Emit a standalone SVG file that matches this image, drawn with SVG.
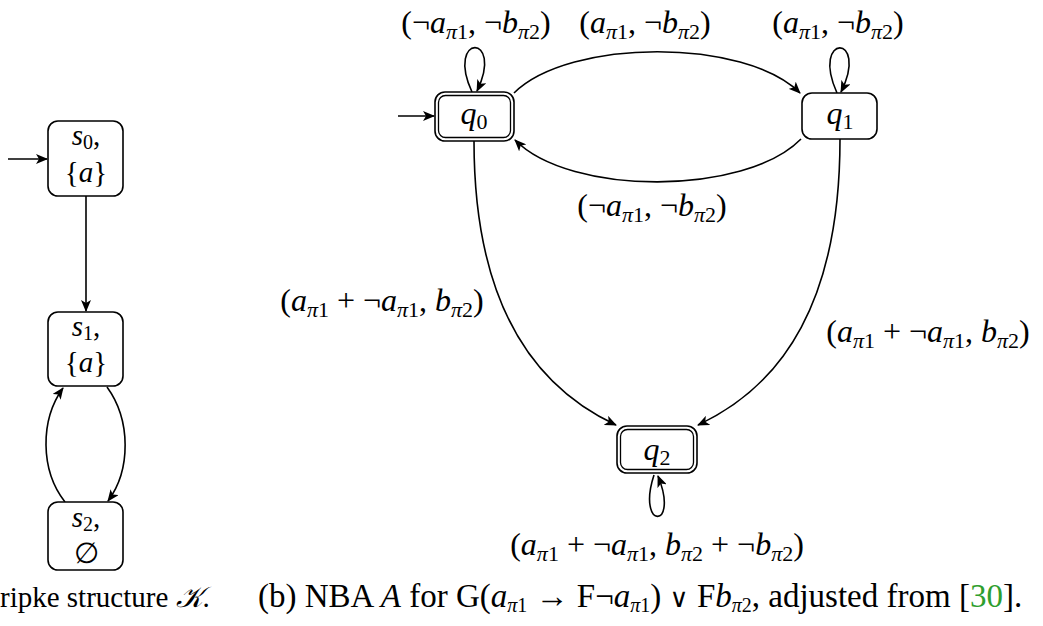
<svg xmlns="http://www.w3.org/2000/svg" width="1043" height="626" viewBox="0 0 1043 626" font-family="'Liberation Serif', 'Times New Roman', serif">
<style>
text{font-family:"Liberation Serif","Times New Roman",serif;fill:#000;}
.lbl{font-size:32px;text-anchor:middle;}
.k{font-size:29px;text-anchor:middle;}
.cap{font-size:33px;}
.capl{font-size:29px;}
.i{font-style:italic;}
.s{font-size:22px;}
.sk{font-size:20px;}
.dv{font-family:"DejaVu Serif",serif;font-size:26px;}
.box{fill:#fff;stroke:#000;stroke-width:1.6;}
.box2{fill:none;stroke:#000;stroke-width:1.3;}
.e{fill:none;stroke:#000;stroke-width:1.6;marker-end:url(#ah);}
</style>
<defs>
<marker id="ah" viewBox="0 0 12 10" refX="11" refY="5" markerWidth="12" markerHeight="10" markerUnits="userSpaceOnUse" orient="auto">
<path d="M0,0 L12,5 L0,10 L3,5 Z" fill="#000"/>
</marker>
</defs>
<rect width="1043" height="626" fill="#fff"/>

<g id="connectors">
<path class="e" d="M8,159 L47,159"/>
<path class="e" d="M86,196 L86,311"/>
<path class="e" d="M107,387 C131,420 131,470 108,501"/>
<path class="e" d="M65,502 C40,470 40,420 63,388"/>
<path class="e" d="M398,116 L434,116"/>
<path class="e" d="M472,92 C445,33 505,33 477,91"/>
<path class="e" d="M837,93 C810,33 870,33 841,92"/>
<path class="e" d="M514,93 C570,38 745,38 800,93"/>
<path class="e" d="M801,139 C745,196 570,196 515,140"/>
<path class="e" d="M474,141 C474,300 530,385 616,425"/>
<path class="e" d="M840,139 C840,300 784,385 698,425"/>
<path class="e" d="M654,475 C636,530 680,530 658,476"/>
</g>

<g id="s0">
<rect class="box" x="48" y="121" width="75" height="75" rx="10"/>
<text class="k" x="86" y="145"><tspan class="i">s</tspan><tspan class="sk" dy="4">0</tspan><tspan dy="-4">,</tspan></text>
<text class="k" x="86" y="182">{<tspan class="i">a</tspan>}</text>
</g>
<g id="s1">
<rect class="box" x="48" y="312" width="75" height="74" rx="10"/>
<text class="k" x="86" y="336"><tspan class="i">s</tspan><tspan class="sk" dy="4">1</tspan><tspan dy="-4">,</tspan></text>
<text class="k" x="86" y="372">{<tspan class="i">a</tspan>}</text>
</g>
<g id="s2">
<rect class="box" x="48" y="502" width="75" height="68" rx="10"/>
<text class="k" x="86" y="527"><tspan class="i">s</tspan><tspan class="sk" dy="4">2</tspan><tspan dy="-4">,</tspan></text>
<text class="k" x="86" y="563">∅</text>
</g>

<g id="q0">
<rect class="box" x="435" y="92" width="79" height="49" rx="10"/>
<rect class="box2" x="438.5" y="95.5" width="72" height="42" rx="7"/>
<text class="lbl" x="474" y="124"><tspan class="i">q</tspan><tspan class="s" dy="5">0</tspan></text>
</g>
<g id="q1">
<rect class="box" x="802" y="93" width="75" height="46" rx="10"/>
<text class="lbl" x="840" y="124"><tspan class="i">q</tspan><tspan class="s" dy="5">1</tspan></text>
</g>
<g id="q2">
<rect class="box" x="617" y="426" width="80" height="47" rx="10"/>
<rect class="box2" x="620.5" y="429.5" width="73" height="40" rx="7"/>
<text class="lbl" x="657" y="460"><tspan class="i">q</tspan><tspan class="s" dy="5">2</tspan></text>
</g>

<g id="labels">
<text class="lbl" x="476" y="33">(¬<tspan class="i">a</tspan><tspan class="s" dy="6"><tspan class="i">π</tspan>1</tspan><tspan dy="-6">, ¬</tspan><tspan class="i">b</tspan><tspan class="s" dy="6"><tspan class="i">π</tspan>2</tspan><tspan dy="-6">)</tspan></text>
<text class="lbl" x="645" y="33">(<tspan class="i">a</tspan><tspan class="s" dy="6"><tspan class="i">π</tspan>1</tspan><tspan dy="-6">, ¬</tspan><tspan class="i">b</tspan><tspan class="s" dy="6"><tspan class="i">π</tspan>2</tspan><tspan dy="-6">)</tspan></text>
<text class="lbl" x="838" y="33">(<tspan class="i">a</tspan><tspan class="s" dy="6"><tspan class="i">π</tspan>1</tspan><tspan dy="-6">, ¬</tspan><tspan class="i">b</tspan><tspan class="s" dy="6"><tspan class="i">π</tspan>2</tspan><tspan dy="-6">)</tspan></text>
<text class="lbl" x="652" y="216">(¬<tspan class="i">a</tspan><tspan class="s" dy="6"><tspan class="i">π</tspan>1</tspan><tspan dy="-6">, ¬</tspan><tspan class="i">b</tspan><tspan class="s" dy="6"><tspan class="i">π</tspan>2</tspan><tspan dy="-6">)</tspan></text>
<text class="lbl" x="382" y="311">(<tspan class="i">a</tspan><tspan class="s" dy="6"><tspan class="i">π</tspan>1</tspan><tspan dy="-6"> + ¬</tspan><tspan class="i">a</tspan><tspan class="s" dy="6"><tspan class="i">π</tspan>1</tspan><tspan dy="-6">, </tspan><tspan class="i">b</tspan><tspan class="s" dy="6"><tspan class="i">π</tspan>2</tspan><tspan dy="-6">)</tspan></text>
<text class="lbl" x="928" y="342">(<tspan class="i">a</tspan><tspan class="s" dy="6"><tspan class="i">π</tspan>1</tspan><tspan dy="-6"> + ¬</tspan><tspan class="i">a</tspan><tspan class="s" dy="6"><tspan class="i">π</tspan>1</tspan><tspan dy="-6">, </tspan><tspan class="i">b</tspan><tspan class="s" dy="6"><tspan class="i">π</tspan>2</tspan><tspan dy="-6">)</tspan></text>
<text class="lbl" x="657" y="555">(<tspan class="i">a</tspan><tspan class="s" dy="6"><tspan class="i">π</tspan>1</tspan><tspan dy="-6"> + ¬</tspan><tspan class="i">a</tspan><tspan class="s" dy="6"><tspan class="i">π</tspan>1</tspan><tspan dy="-6">, </tspan><tspan class="i">b</tspan><tspan class="s" dy="6"><tspan class="i">π</tspan>2</tspan><tspan dy="-6"> + ¬</tspan><tspan class="i">b</tspan><tspan class="s" dy="6"><tspan class="i">π</tspan>2</tspan><tspan dy="-6">)</tspan></text>
</g>

<g id="captions">
<text class="capl" x="0" y="607">ripke structure <tspan class="i">𝒦</tspan>.</text>
<text class="cap" x="258" y="607">(b) NBA <tspan class="i">A</tspan> for G(<tspan class="i">a</tspan><tspan class="sk" dy="5"><tspan class="i">π</tspan>1</tspan><tspan dy="-5"> → F¬</tspan><tspan class="i">a</tspan><tspan class="sk" dy="5"><tspan class="i">π</tspan>1</tspan><tspan dy="-5">) </tspan><tspan class="dv">∨</tspan> F<tspan class="i">b</tspan><tspan class="sk" dy="5"><tspan class="i">π</tspan>2</tspan><tspan dy="-5">, adjusted from [</tspan><tspan fill="#2e9e2e">30</tspan>].</text>
</g>
</svg>
